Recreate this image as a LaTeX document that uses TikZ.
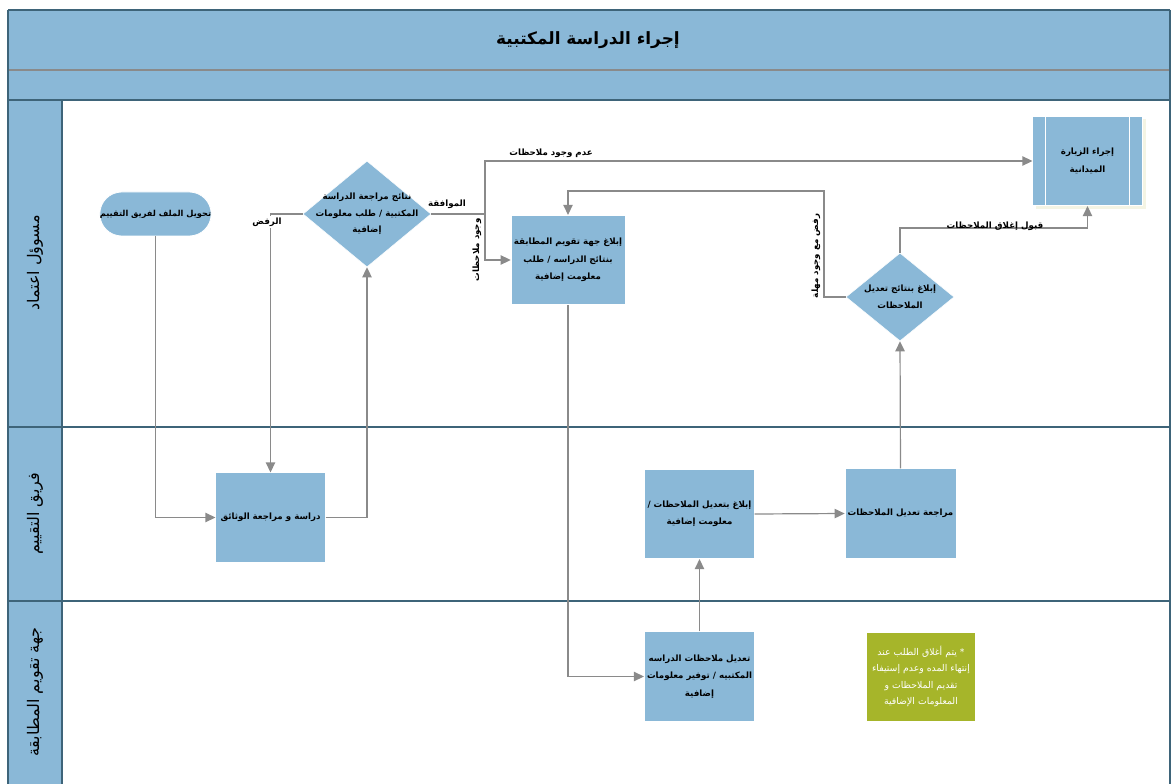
\documentclass[tikz,border=0pt]{standalone}
\usepackage{fontspec}
\setmainfont{DejaVu Sans}
\newfontfamily\arabicfont[Script=Arabic]{DejaVu Sans}
\TeXXeTstate=1
\usetikzlibrary{shapes.geometric,arrows.meta}

\definecolor{laneblue}{HTML}{8AB8D7}
\definecolor{laneline}{HTML}{3E6479}
\definecolor{flowgray}{HTML}{8A8A8A}
\definecolor{noteolive}{HTML}{A6B52A}
\definecolor{shadowcream}{HTML}{F4F4E4}

\newcommand{\rtltext}[1]{\beginR #1\endR}

\tikzset{
  task/.style={fill=laneblue, draw=white, line width=0.6pt, minimum width=82pt, minimum height=67pt,
    align=center, inner sep=2pt, font=\arabicfont\bfseries\fontsize{6.5}{13}\selectfont},
  terminal/.style={task, minimum height=33pt, inner xsep=0pt, rounded corners=16.4pt,
    font=\arabicfont\bfseries\fontsize{6.2}{10}\selectfont},
  decision/.style={diamond, fill=laneblue, draw=white, inner sep=0pt},
  decisiontext/.style={align=center, font=\arabicfont\bfseries\fontsize{6.5}{12.4}\selectfont},
  flowlabel/.style={font=\arabicfont\bfseries\fontsize{6.5}{8}\selectfont, inner sep=1pt},
  lanelabel/.style={rotate=90, font=\arabicfont\fontsize{12}{14}\selectfont},
  notebox/.style={fill=noteolive, draw=white, minimum width=82pt, minimum height=67pt, align=center,
    text=white, font=\arabicfont\fontsize{7}{12.4}\selectfont},
  flow/.style={draw=flowgray, line width=0.9pt, -{Triangle[length=7.5pt,width=7pt]}},
  flowline/.style={draw=flowgray, line width=0.9pt},
}

\begin{document}
\begin{tikzpicture}[x=0.75pt, y=-0.75pt]
  \useasboundingbox (0,0) rectangle (1173,784);

  % swimlane frame
  \fill[laneblue] (8,10) rectangle (1170,100);
  \fill[laneblue] (8,100) rectangle (62,784);
  \draw[laneline, line width=0.8pt] (8,10) -- (1170,10);
  \draw[flowgray, line width=1.2pt] (8,70) -- (1170,70);
  \draw[laneline, line width=0.8pt] (8,100) -- (1170,100);
  \draw[laneline, line width=0.8pt] (8,427) -- (1170,427);
  \draw[laneline, line width=0.8pt] (8,601) -- (1170,601);
  \draw[laneline, line width=0.8pt] (8,10) -- (8,784);
  \draw[laneline, line width=0.8pt] (62,100) -- (62,784);
  \draw[laneline, line width=0.8pt] (1170,10) -- (1170,784);

  \node[font=\arabicfont\bfseries\fontsize{12.7}{14}\selectfont] (title) at (588,40) {\rtltext{إجراء الدراسة المكتبية}};
  \node[lanelabel] (lane1) at (35,263) {\rtltext{مسوؤل اعتماد}};
  \node[lanelabel] (lane2) at (35,514) {\rtltext{فريق التقييم}};
  \node[lanelabel] (lane3) at (35,692) {\rtltext{جهة تقويم المطابقة}};

  % nodes
  \node[terminal] (start) at (155.5,214) {\rtltext{تحويل الملف لفريق التقييم}};
  \node[decision, minimum width=96pt, minimum height=79.5pt] (check) at (367,214) {};
  \node[decisiontext] (checktext) at (check) {\rtltext{نتائج مراجعة الدراسة}\\\rtltext{المكتبية / طلب معلومات}\\\rtltext{إضافية}};
  \node[task] (notify) at (568,260) {\rtltext{إبلاغ جهة تقويم المطابقة}\\\rtltext{بنتائج الدراسه / طلب}\\\rtltext{معلومت إضافية}};
  \fill[shadowcream] (1036,119) rectangle (1146,209);
  \node[task] (visit) at (1087.5,161) {\rtltext{إجراء الزيارة}\\\rtltext{الميدانية}};
  \draw[white, line width=0.8pt] ([xshift=9.75pt]visit.north west) -- ([xshift=9.75pt]visit.south west);
  \draw[white, line width=0.8pt] ([xshift=-9.75pt]visit.north east) -- ([xshift=-9.75pt]visit.south east);
  \node[decision, minimum width=81pt, minimum height=66pt] (result) at (900,297) {};
  \node[decisiontext] (resulttext) at (result) {\rtltext{إبلاغ بنتائج تعديل}\\\rtltext{الملاحظات}};

  \node[task] (study) at (270.5,517.5) {\rtltext{دراسة و مراجعة الوثائق}};
  \node[task] (inform) at (699.5,514) {\rtltext{إبلاغ بتعديل الملاحظات /}\\\rtltext{معلومت إضافية}};
  \node[task] (review) at (900.5,513.5) {\rtltext{مراجعة تعديل الملاحظات}};

  \node[task] (fix) at (699.5,676.5) {\rtltext{تعديل ملاحظات الدراسه}\\\rtltext{المكتبيه / توفير معلومات}\\\rtltext{إضافية}};
  \node[notebox] (note) at (921,676.5) {\rtltext{* يتم أغلاق الطلب عند}\\\rtltext{إنتهاء المده وعدم إستيفاء}\\\rtltext{تقديم الملاحظات و}\\\rtltext{المعلومات الإضافية}};

  % connectors
  \coordinate (split) at (485,214);
  \coordinate (back) at (824,191);
  \coordinate (accept) at (1087.5,228);
  \draw[flow] (start.south) |- (study.west);
  \draw[flow] (check.west) -| (study.north);
  \draw[flow] (study.east) -| (check.south);
  \draw[flowline] (check.east) -- (split);
  \draw[flow] (split) |- (visit.west);
  \draw[flow] (split) |- (notify.west);
  \draw[flow] (notify.south) |- (fix.west);
  \draw[flow] (fix.north) -- (inform.south);
  \draw[flow] (inform.east) -- (review.west);
  \draw[flow] (review.north) -- (result.south);
  \draw[flow] (result.west) -| (back) -| (notify.north);
  \draw[flow] (result.north) |- (accept) -- (visit.south);

  % connector labels
  \node[flowlabel, fill=white] (reject) at (267,222) {\rtltext{الرفض}};
  \node[flowlabel] (approve) at (447,204) {\rtltext{الموافقة}};
  \node[flowlabel, fill=white] (nonotes) at (551,153) {\rtltext{عدم وجود ملاحظات}};
  \node[flowlabel, rotate=90] (notes) at (477,250) {\rtltext{وجود ملاحظات}};
  \node[flowlabel, rotate=90] (refuse) at (816,256) {\rtltext{رفض مع وجود مهلة}};
  \node[flowlabel] (close) at (995,226) {\rtltext{قبول إغلاق الملاحظات}};
\end{tikzpicture}
\end{document}
